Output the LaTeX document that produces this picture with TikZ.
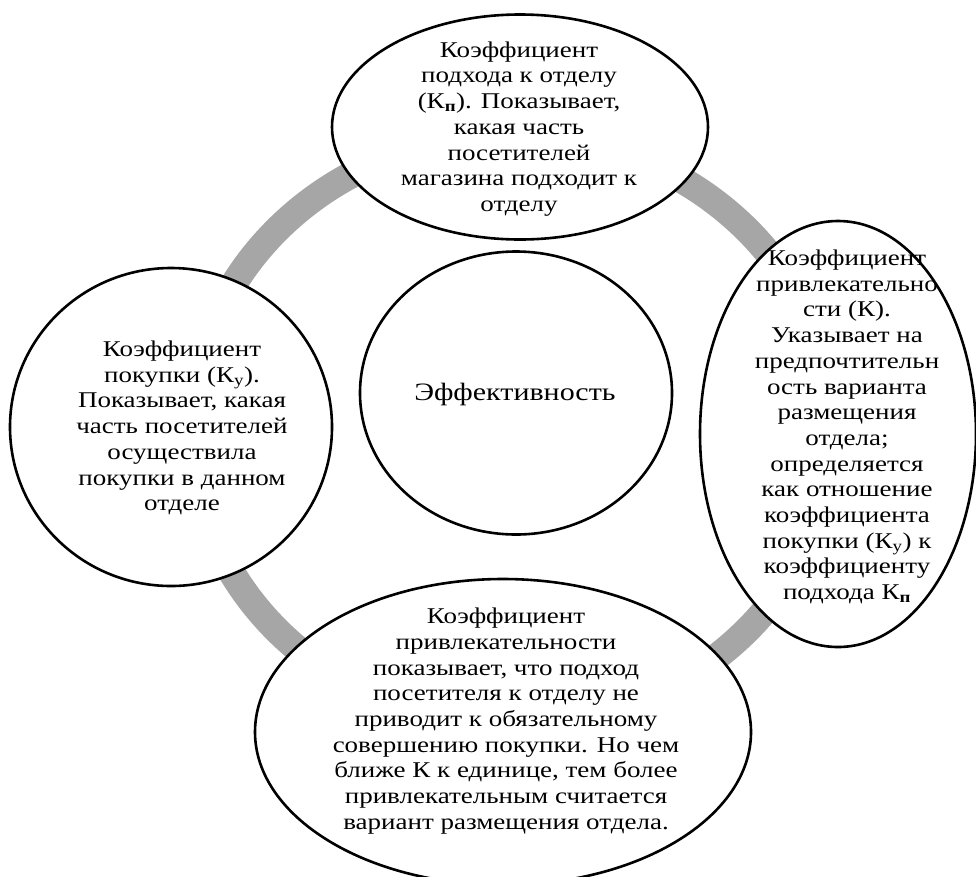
\documentclass[tikz,border=0pt]{standalone}
\usepackage{fontspec}
\setmainfont[FakeStretch=1.2]{Liberation Serif}
\usetikzlibrary{shapes.geometric}
\definecolor{ringgray}{RGB}{166,166,166}
\begin{document}
\begin{tikzpicture}[x=1pt,y=-1pt,
  ring/.style={draw=ringgray, line width=27pt},
  blob/.style={ellipse, draw=black, line width=2.6pt, fill=white, inner sep=0pt},
  txt/.style={align=center, font=\fontsize{22.5}{25.7}\selectfont, inner sep=0pt, text=black}]
\useasboundingbox (0,0) rectangle (976,876);
\fill[white] (0,0) rectangle (976,876);
% gray ring
\draw[ring] (512,430) ellipse [x radius=320pt, y radius=295pt];
% ellipses
\node[blob, minimum width=322pt, minimum height=318pt] (left) at (171,427) {};
\node[blob, minimum width=376pt, minimum height=225pt] (top) at (520,127) {};
\node[blob, minimum width=312pt, minimum height=283pt] (center) at (516,393) {};
\node[blob, minimum width=496pt, minimum height=306pt] (bottom) at (503,732) {};
\node[blob, minimum width=276pt, minimum height=426pt] (right) at (838,434) {};
% texts
\node[txt] (toptext) at (519,129) {Коэффициент\\подхода к отделу\\(К\textsubscript{\textbf{п}}). Показывает,\\какая часть\\посетителей\\магазина подходит к\\отделу};
\node[txt, font=\fontsize{25}{28}\selectfont] (centertext) at (515,394) {Эффективность};
\node[txt] (lefttext) at (182,428) {Коэффициент\\покупки (К\textsubscript{у}).\\Показывает, какая\\часть посетителей\\осуществила\\покупки в данном\\отделе};
\node[txt] (righttext) at (847,427) {Коэффициент\\привлекательно\\сти (К).\\Указывает на\\предпочтительн\\ость варианта\\размещения\\отдела;\\определяется\\как отношение\\коэффициента\\покупки (К\textsubscript{у}) к\\коэффициенту\\подхода К\textsubscript{\textbf{п}}};
\node[txt] (bottomtext) at (506,721) {Коэффициент\\привлекательности\\показывает, что подход\\посетителя к отделу не\\приводит к обязательному\\совершению покупки. Но чем\\ближе К к единице, тем более\\привлекательным считается\\вариант размещения отдела.};
\end{tikzpicture}
\end{document}
